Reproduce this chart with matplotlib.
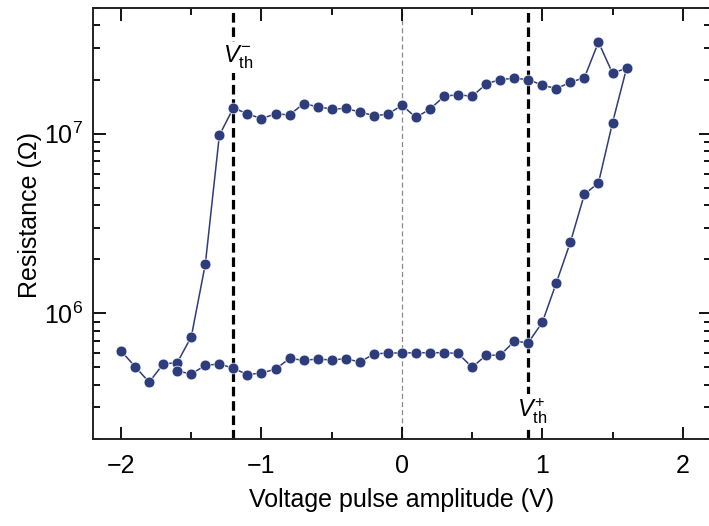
import matplotlib
matplotlib.use("Agg")
import matplotlib.pyplot as plt
from matplotlib.ticker import LogLocator, MultipleLocator, NullFormatter, FixedLocator
import numpy as np

plt.rcParams["font.family"] = ["Liberation Sans", "DejaVu Sans"]
plt.rcParams["mathtext.fontset"] = "custom"
plt.rcParams["mathtext.rm"] = "Liberation Sans"
plt.rcParams["mathtext.it"] = "Liberation Sans:italic"
plt.rcParams["mathtext.bf"] = "Liberation Sans:bold"

# Sweep from -2 V up to +1.6 V (switching to the high-resistance state)
voltage_up = [-2.0, -1.9, -1.8, -1.7, -1.6, -1.5, -1.4, -1.3, -1.2, -1.1,
              -1.0, -0.9, -0.8, -0.7, -0.6, -0.5, -0.4, -0.3, -0.2, -0.1,
              0.0, 0.1, 0.2, 0.3, 0.4, 0.5, 0.6, 0.7, 0.8, 0.9,
              1.0, 1.1, 1.2, 1.3, 1.4, 1.5, 1.6]
resistance_up = [6.18e5, 5.05e5, 4.14e5, 5.23e5, 5.32e5, 7.41e5, 1.88e6, 9.8e6, 1.39e7, 1.29e7,
                 1.21e7, 1.29e7, 1.27e7, 1.47e7, 1.41e7, 1.37e7, 1.38e7, 1.32e7, 1.26e7, 1.28e7,
                 1.44e7, 1.23e7, 1.37e7, 1.61e7, 1.65e7, 1.61e7, 1.89e7, 2.0e7, 2.03e7, 2.0e7,
                 1.86e7, 1.78e7, 1.93e7, 2.05e7, 3.23e7, 2.17e7, 2.31e7]

# Return sweep from +1.5 V back down to -1.6 V (low-resistance state)
voltage_down = [1.5, 1.4, 1.3, 1.2, 1.1, 1.0, 0.9, 0.8, 0.7, 0.6,
                0.5, 0.4, 0.3, 0.2, 0.1, 0.0, -0.1, -0.2, -0.3, -0.4,
                -0.5, -0.6, -0.7, -0.8, -0.9, -1.0, -1.1, -1.2, -1.3, -1.4,
                -1.5, -1.6]
resistance_down = [1.15e7, 5.32e6, 4.6e6, 2.49e6, 1.48e6, 8.91e5, 6.87e5, 6.99e5, 5.85e5, 5.85e5,
                   5.01e5, 5.99e5, 6.04e5, 6.04e5, 6.04e5, 6.02e5, 6.02e5, 5.94e5, 5.36e5, 5.6e5,
                   5.5e5, 5.57e5, 5.48e5, 5.62e5, 4.89e5, 4.66e5, 4.56e5, 4.95e5, 5.23e5, 5.14e5,
                   4.6e5, 4.78e5]

v_th_minus = -1.2
v_th_plus = 0.9

x_ticks = [-2, -1, 0, 1, 2]
x_tick_labels = ["\u22122", "\u22121", "0", "1", "2"]

navy = "#2d3c7b"

fig = plt.figure(figsize=(7.09, 5.26), dpi=100)
ax = fig.add_axes([93 / 709, 87 / 526, 617.8 / 709, 431 / 526])

ax.axvline(0, color="#8a8a8a", lw=0.9, ls=(0, (4, 2.5)), zorder=1)
ax.axvline(v_th_minus, color="black", lw=2.3, ls=(0, (3.0, 1.5)), zorder=1)
ax.axvline(v_th_plus, color="black", lw=2.3, ls=(0, (3.0, 1.5)), zorder=1)

ax.plot(voltage_up + voltage_down, resistance_up + resistance_down,
        color=navy, lw=1.1, marker="o", ms=7.8, mfc=navy, mec="white",
        mew=0.5, zorder=3)

ax.set_yscale("log")
ax.set_xlim(-2.2, 2.2)
ax.set_ylim(2.0e5, 5.0e7)

ax.xaxis.set_major_locator(FixedLocator(x_ticks))
ax.set_xticklabels(x_tick_labels)
ax.xaxis.set_minor_locator(MultipleLocator(0.5))
ax.yaxis.set_major_locator(LogLocator(base=10, numticks=10))
ax.yaxis.set_minor_locator(LogLocator(base=10, subs=np.arange(2, 10), numticks=10))
ax.yaxis.set_minor_formatter(NullFormatter())

ax.tick_params(which="both", direction="in", top=True, right=True,
               labelsize=18, width=1.3, colors="black")
ax.tick_params(axis="x", which="major", pad=11)
ax.tick_params(axis="y", which="major", pad=7)
ax.tick_params(which="major", length=9)
ax.tick_params(which="minor", length=5)
for s in ax.spines.values():
    s.set_linewidth(1.4)
    s.set_color("#222222")

ax.set_xlabel("Voltage pulse amplitude (V)", fontsize=18, labelpad=7)
ax.set_ylabel("Resistance (\u03a9)", fontsize=18)
ax.yaxis.set_label_coords(-0.082, 0.52)

box = dict(facecolor="white", edgecolor="none", pad=1.5)
ax.text(-1.165, 2.65e7, r"$V_{\mathrm{th}}^{-}$", fontsize=17, ha="center",
        va="center", bbox=box, zorder=2)
ax.text(0.93, 2.87e5, r"$V_{\mathrm{th}}^{+}$", fontsize=17, ha="center",
        va="center", bbox=box, zorder=2)

fig.savefig("out.png", dpi=100)
